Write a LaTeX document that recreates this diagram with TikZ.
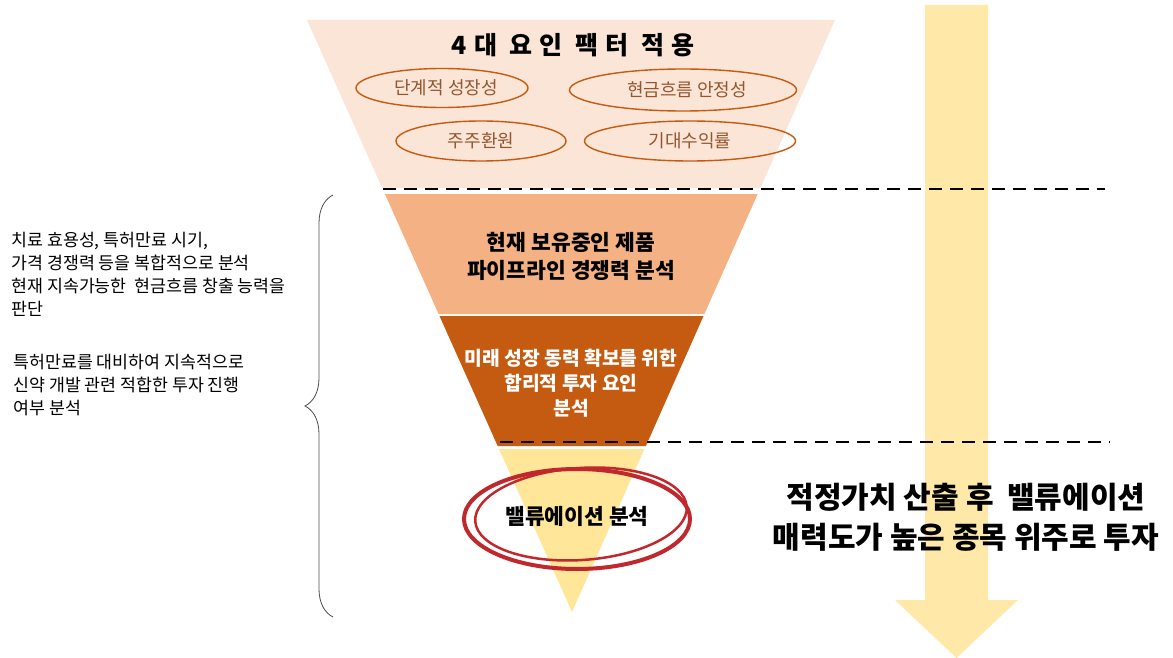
\documentclass[tikz,border=0pt]{standalone}
\usepackage{fontspec}
\setmainfont{Noto Sans CJK KR}
\usetikzlibrary{shapes.geometric,decorations.pathreplacing}
\definecolor{bandA}{HTML}{FBE5D6}
\definecolor{bandB}{HTML}{F4B183}
\definecolor{bandC}{HTML}{C55A11}
\definecolor{bandD}{HTML}{FFE699}
\definecolor{arrowfill}{HTML}{FFE8A8}
\definecolor{factorline}{HTML}{C55A11}
\definecolor{factortext}{HTML}{94562F}
\definecolor{circlered}{HTML}{C0282D}
\tikzset{
	factor/.style={ellipse,draw=factorline,line width=1.4pt,text=factortext,font=\fontsize{18}{20}\selectfont,inner sep=0pt},
	divider/.style={line width=2.7pt,dash pattern=on 13pt off 8pt},
	sidetext/.style={anchor=west,align=left,font=\fontsize{17.3}{23}\selectfont},
}
\begin{document}
\begin{tikzpicture}[x=1pt,y=-1pt]
			\useasboundingbox (0,0) rectangle (1173,658);
			\fill[arrowfill] (925,5) -- (988,5) -- (988,600) -- (1018,600) -- (956.5,658) -- (895,600) -- (925,600) -- cycle;
			\fill[bandA] (307,20) -- (835,20) -- (760.4,188) -- (382.2,188) -- cycle;
			\fill[bandB] (384.9,194) -- (757.7,194) -- (704.4,314) -- (438.6,314) -- cycle;
			\fill[bandC] (439.5,316) -- (703.5,316) -- (645.9,446) -- (497.7,446) -- cycle;
			\fill[bandD] (499,449) -- (644.5,449) -- (572,612) -- cycle;
			\coordinate (d1a) at (383,189);
			\coordinate (d1b) at (1105,189);
			\coordinate (d2a) at (500,442);
			\coordinate (d2b) at (1110,442);
			\draw[divider] (d1a) -- (d1b);
			\draw[divider] (d2a) -- (d2b);
			\node (title) at (573,45) {\fontsize{25}{28}\selectfont\bfseries\addfontfeatures{LetterSpace=28}4대 요인 팩터 적용};
			\node[factor,minimum width=172pt,minimum height=39pt] (growth) at (442,88) {~~단계적 성장성};
			\node[factor,minimum width=227pt,minimum height=42pt] (cash) at (683,90) {~~현금흐름 안정성};
			\node[factor,minimum width=170pt,minimum height=40pt] (payout) at (481,141) {주주환원};
			\node[factor,minimum width=211pt,minimum height=40pt] (ret) at (690,141) {기대수익률};
			\node[align=center,font=\fontsize{21.5}{28}\selectfont\bfseries] (pipe) at (571,256) {현재 보유중인 제품\\파이프라인 경쟁력 분석};
			\node[align=center,text=white,font=\fontsize{19.3}{25}\selectfont\bfseries] (future) at (571,383) {미래 성장 동력 확보를 위한\\합리적 투자 요인\\분석};
			\node[font=\fontsize{21.5}{24}\selectfont\bfseries] (valu) at (577,516) {밸류에이션 분석};
			\draw[circlered,line width=4pt] (577,519) ellipse [x radius=113pt,y radius=50pt];
			\draw[circlered,line width=2.5pt,rotate around={4:(581,514)}] (581,514) ellipse [x radius=106pt,y radius=46pt];
			\coordinate (brtop) at (333,195);
			\coordinate (brbot) at (333,617);
			\draw[gray!60!black,line width=0.8pt,decorate,decoration={brace,amplitude=28pt}] (brbot) -- (brtop);
			\node[sidetext] (now) at (8,274) {치료 효용성, 특허만료 시기,\\가격 경쟁력 등을 복합적으로 분석\\현재 지속가능한~~현금흐름 창출 능력을\\판단};
			\node[sidetext] (next) at (10,385) {특허만료를 대비하여 지속적으로\\신약 개발 관련 적합한 투자 진행\\여부 분석};
			\node[align=center,font=\fontsize{30}{40}\selectfont\bfseries] (goal) at (966,517) {적정가치 산출 후~~밸류에이션\\매력도가 높은 종목 위주로 투자};
\end{tikzpicture}
\end{document}
